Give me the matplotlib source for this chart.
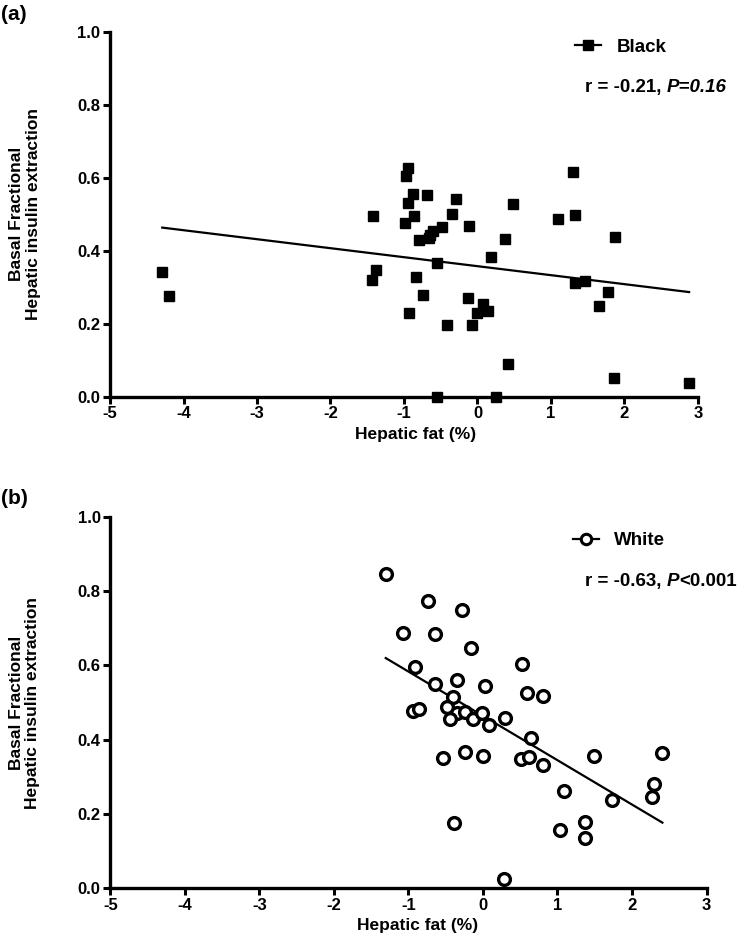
import numpy as np
import matplotlib
matplotlib.use("Agg")
import matplotlib.pyplot as plt
from matplotlib.lines import Line2D

plt.rcParams['font.family'] = ['Liberation Sans', 'DejaVu Sans']
plt.rcParams['font.weight'] = 'bold'

# Panel (a): Black
black_x = [-4.29, -4.195, -1.42, -1.375, -1.43, -0.944, -0.966, -0.876, -0.693, -0.298,
           -0.944, 0.480, -0.866, -0.352, -0.98, -0.112, -0.48, -0.611, -0.64, -0.66,
           -0.794, 0.375, 0.18, -0.547, -0.835, -0.747, -0.134, 0.075, -0.003, 0.147,
           -0.93, -0.416, -0.071, 0.42, -0.556, 0.257, 1.298, 1.098, 1.321, 1.866,
           1.33, 1.462, 1.77, 1.657, 1.863, 2.88]
black_y = [0.341, 0.277, 0.496, 0.347, 0.320, 0.627, 0.605, 0.556, 0.553, 0.542,
           0.531, 0.527, 0.496, 0.500, 0.475, 0.468, 0.464, 0.453, 0.444, 0.435,
           0.429, 0.431, 0.382, 0.366, 0.327, 0.279, 0.271, 0.255, 0.229, 0.235,
           0.230, 0.195, 0.195, 0.089, 0.0, 0.0, 0.616, 0.486, 0.497, 0.438,
           0.311, 0.317, 0.286, 0.249, 0.052, 0.037]

# Panel (b): White
white_x = [-1.305, -0.733, -0.281, -1.072, -0.647, -0.164, 0.525, -0.907, -0.344, -0.647,
           0.024, 0.588, 0.807, -0.397, -0.478, -0.942, -0.862, -0.352, -0.244, -0.442,
           -0.137, -0.012, 0.086, 0.293, 0.646, -0.540, -0.244, 0.005, 0.515, 0.623,
           0.807, -0.384, 0.279, 1.491, 2.408, 1.089, 2.297, 2.270, 1.729, 1.366,
           1.039, 1.366]
white_y = [0.846, 0.774, 0.749, 0.686, 0.684, 0.647, 0.603, 0.597, 0.560, 0.550,
           0.545, 0.526, 0.517, 0.515, 0.489, 0.478, 0.483, 0.471, 0.474, 0.456,
           0.455, 0.472, 0.439, 0.458, 0.404, 0.351, 0.367, 0.356, 0.347, 0.354,
           0.332, 0.176, 0.025, 0.357, 0.363, 0.263, 0.280, 0.246, 0.238, 0.179,
           0.157, 0.135]

xticks = [-5, -4, -3, -2, -1, 0, 1, 2, 3]
yticks = [0.0, 0.2, 0.4, 0.6, 0.8, 1.0]
ylabel = "Basal Fractional\nHepatic insulin extraction"
xlabel = "Hepatic fat (%)"

fig = plt.figure(figsize=(7.47, 9.51), dpi=100)
ax_a = fig.add_axes([0.1473, 0.5829, 0.787, 0.3838])
ax_b = fig.add_axes([0.1478, 0.0659, 0.798, 0.3907])


def style(ax, xlab_pos):
    ax.set_xlim(-5, 3)
    ax.set_ylim(0, 1.0)
    ax.set_xticks(xticks)
    ax.set_yticks(yticks)
    ax.set_xticklabels([str(t) for t in xticks])
    ax.set_yticklabels([f"{t:.1f}" for t in yticks])
    for s in ['top', 'right']:
        ax.spines[s].set_visible(False)
    for s in ['left', 'bottom']:
        ax.spines[s].set_linewidth(2.4)
    ax.tick_params(width=2.2, length=5, labelsize=12, pad=2)
    for lab in ax.get_xticklabels() + ax.get_yticklabels():
        lab.set_fontweight('bold')
    ax.set_ylabel(ylabel, fontsize=12.5, fontweight='bold', linespacing=1.1)
    ax.yaxis.set_label_coords(-0.118, 0.5)
    ax.set_xlabel(xlabel, fontsize=12.5, fontweight='bold')
    ax.xaxis.set_label_coords(*xlab_pos)
    ax.xaxis.label.set_verticalalignment('center')


def fitline(ax, x, y):
    x = np.asarray(x)
    y = np.asarray(y)
    m, b = np.polyfit(x, y, 1)
    xs = np.array([x.min(), x.max()])
    ax.plot(xs, m * xs + b, color='black', lw=1.6, zorder=2)


# Panel a
ax_a.plot(black_x, black_y, ls='none', marker='s', ms=7, color='black', clip_on=False, zorder=3)
fitline(ax_a, black_x, black_y)
style(ax_a, (0.52, -0.103))
ax_a.legend(handles=[Line2D([], [], color='black', marker='s', ms=6.5, lw=1.6)],
            labels=['Black'], loc='center left', bbox_to_anchor=(0.775, 0.958),
            frameon=False, handlelength=1.4, handletextpad=0.8, borderpad=0,
            prop={'weight': 'bold', 'size': 13.5})
t1 = ax_a.text(0.808, 0.846, "r = -0.21, ", transform=ax_a.transAxes, ha='left', va='center',
               fontsize=13.5, fontweight='bold')
ax_a.annotate("P=0.16", xy=(1, 0.5), xycoords=t1, ha='left', va='center',
              fontsize=13.5, fontweight='bold', fontstyle='italic')

# Panel b
ax_b.plot(white_x, white_y, ls='none', marker='o', ms=8.5, mfc='white', mec='black', mew=2.4,
          clip_on=False, zorder=3)
fitline(ax_b, white_x, white_y)
style(ax_b, (0.515, -0.101))
ax_b.legend(handles=[Line2D([], [], color='black', marker='o', ms=7.5, mfc='white', mec='black',
                            mew=2.2, lw=1.6)],
            labels=['White'], loc='center left', bbox_to_anchor=(0.76, 0.936),
            frameon=False, handlelength=1.4, handletextpad=0.8, borderpad=0,
            prop={'weight': 'bold', 'size': 13.5})
t2 = ax_b.text(0.796, 0.826, "r = -0.63, ", transform=ax_b.transAxes, ha='left', va='center',
               fontsize=13.5, fontweight='bold')
t3 = ax_b.annotate("P", xy=(1, 0.5), xycoords=t2, ha='left', va='center',
                   fontsize=13.5, fontweight='bold', fontstyle='italic')
ax_b.annotate("<0.001", xy=(1, 0.5), xycoords=t3, ha='left', va='center',
              fontsize=13.5, fontweight='bold')

fig.text(0.002, 0.985, "(a)", fontsize=15, fontweight='bold', ha='left', va='center')
fig.text(0.002, 0.476, "(b)", fontsize=15, fontweight='bold', ha='left', va='center')

fig.savefig("out.png", dpi=100)
